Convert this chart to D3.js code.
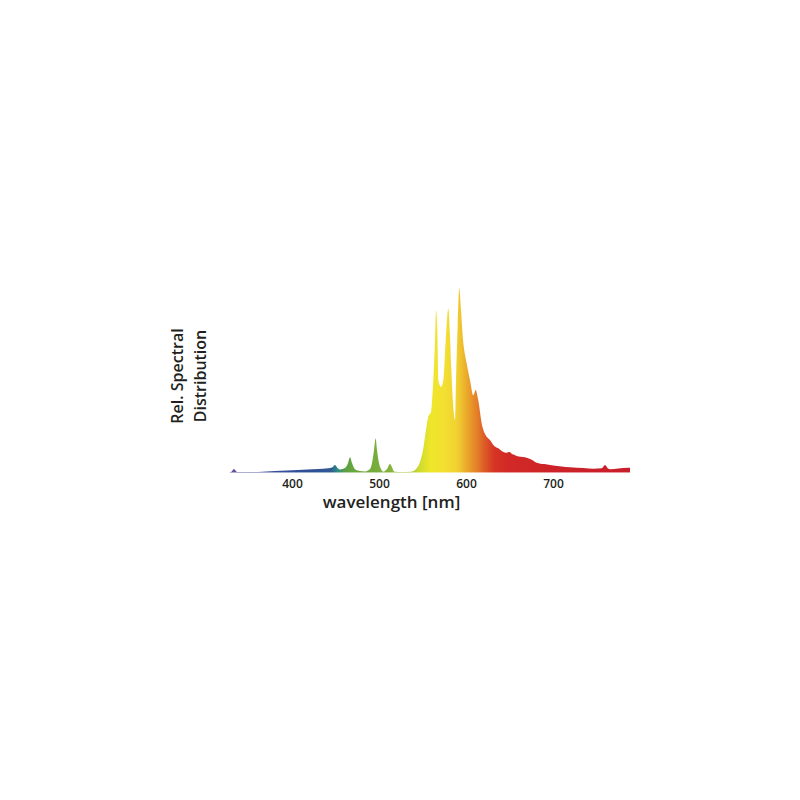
<!DOCTYPE html>
<html>
<head>
<meta charset="utf-8">
<script src="https://cdn.jsdelivr.net/npm/d3@7/dist/d3.min.js"></script>
<style>
  html, body { margin: 0; padding: 0; background: #ffffff; }
  svg { display: block; }
  text { font-family: "Open Sans", "DejaVu Sans", sans-serif; fill: #231f20; }
</style>
</head>
<body>
<script>
// ---- data ----
const wavelengths = [
  328.7, 329.9, 333.3, 336.8, 360.9, 380.5, 406.9, 418.0, 429.9, 441.4, 446.0, 449.4, 452.9, 455.2,
  460.9, 464.4, 466.7, 469.0, 472.4, 478.2, 483.9, 489.7, 492.0, 494.3, 496.2, 497.7, 500.0,
  502.3, 504.6, 509.2, 512.6, 514.9, 517.2, 524.1, 536.8,
  541.4, 547.1, 550.6, 552.9, 556.7, 559.8, 562.4, 564.4, 565.5, 567.0, 568.2, 571.3, 573.9,
  576.7, 579.7, 581.6, 582.8, 585.4, 587.4, 588.5, 590.5, 592.3, 594.3, 595.7, 600.8, 604.6,
  608.4, 611.1, 614.1, 618.0, 623.8, 627.6, 631.4, 634.0, 637.1, 641.0, 646.8, 650.0, 652.9,
  655.5, 658.3, 663.0, 667.8, 673.6, 681.3, 690.0, 700.3, 710.0, 719.5, 735.0, 746.3, 756.0,
  759.8, 763.2, 765.5, 775.0, 786.6, 788.5, 788.6
];
const intensity = [
  0, 0, 1.6, 0, 0, 0.5, 1.1, 1.3, 1.6, 2.0, 2.4, 3.8, 1.9, 1.4,
  2.2, 4.9, 8.0, 4.9, 1.5, 0.5, 0.3, 1.6, 4.9, 12.0, 18.3, 12.0, 4.9,
  1.6, 0.2, 1.6, 4.3, 2.7, 0.3, 0, 0.2,
  1.1, 5.6, 12.0, 19.2, 30.1, 32.8, 50.0, 71.7, 88.0, 77.0, 50.0, 46.4, 50.0,
  71.7, 89.0, 74.5, 59.2, 35.5, 28.3, 50.0, 81.0, 100, 88.0, 77.2, 59.2, 50.0,
  41.8, 44.6, 39.1, 26.6, 19.2, 17.4, 14.7, 13.6, 12.9, 11.5, 10.5, 10.9, 9.8,
  9.4, 8.7, 8.3, 8.0, 7.1, 5.1, 4.3, 3.6, 3.0, 2.6, 2.2, 1.8, 2.0,
  3.8, 1.9, 1.5, 1.9, 2.3, 2.3, 0
];
const xTicks = [400, 500, 600, 700];
const colorStopNm = [329, 360, 420, 445, 452, 462, 475, 500, 515, 535, 548, 560, 575, 590, 598, 606, 614, 622, 632, 645, 700, 789];
const colorStopHex = ["#6b4a9b", "#3d4f9e", "#2d4f96", "#2f5a92", "#2f8a86", "#5ea240", "#6aa83c", "#78ae3c", "#88b43c", "#a6c43a", "#d2dc2e", "#f0e62a", "#f3e032", "#f0d030", "#ecb42c", "#e8962a", "#e27a28", "#dc5828", "#d63626", "#d22a26", "#cc2228", "#c81e2a"];
const yLabelLines = ["Rel. Spectral", "Distribution"];
const xLabel = "wavelength [nm]";

// ---- drawing ----
const W = 800, H = 800;
const svg = d3.select("body").append("svg").attr("width", W).attr("height", H);

const x = d3.scaleLinear().domain([400, 700]).range([292, 553]);
const y = d3.scaleLinear().domain([0, 100]).range([472, 288.3]);

const data = wavelengths.map((w, i) => ({ w, v: intensity[i] }));

const defs = svg.append("defs");
const grad = defs.append("linearGradient")
  .attr("id", "spec")
  .attr("gradientUnits", "userSpaceOnUse")
  .attr("x1", x(329)).attr("x2", x(789)).attr("y1", 0).attr("y2", 0);
const off = d3.scaleLinear().domain([329, 789]).range([0, 1]);
colorStopNm.forEach((nm, i) => {
  grad.append("stop").attr("offset", off(nm)).attr("stop-color", colorStopHex[i]);
});

const area = d3.area()
  .x(d => x(d.w))
  .y0(y(0))
  .y1(d => y(d.v))
  .curve(d3.curveMonotoneX);

svg.append("path")
  .datum(data)
  .attr("d", area)
  .attr("fill", "url(#spec)");

// thin baseline under the curve
svg.append("line")
  .attr("x1", x(328.7)).attr("x2", x(788.6))
  .attr("y1", y(0) + 0.5).attr("y2", y(0) + 0.5)
  .attr("stroke", "url(#spec)").attr("stroke-width", 1).attr("opacity", 0.45);

// x axis labels (no axis line or ticks in the reference)
const axis = d3.axisBottom(x).tickValues(xTicks).tickSize(0).tickPadding(0).tickFormat(d3.format("d"));
const gAxis = svg.append("g").attr("transform", `translate(0, ${y(0)})`).call(axis);
gAxis.select(".domain").remove();
gAxis.selectAll("text")
  .attr("dy", null).attr("y", 15.5)
  .style("font-family", "'Open Sans', sans-serif")
  .style("font-size", "12px")
  .style("font-weight", 600)
  .style("fill", "#231f20");

svg.append("text")
  .attr("x", 391.5).attr("y", 508)
  .attr("text-anchor", "middle")
  .style("font-size", "17px")
  .style("font-weight", 600)
  .text(xLabel);

yLabelLines.forEach((t, i) => {
  svg.append("text")
    .attr("transform", `translate(${183 + i * 23}, 376) rotate(-90)`)
    .attr("text-anchor", "middle")
    .style("font-size", "16px")
    .style("font-weight", 600)
    .text(t);
});
</script>
</body>
</html>
